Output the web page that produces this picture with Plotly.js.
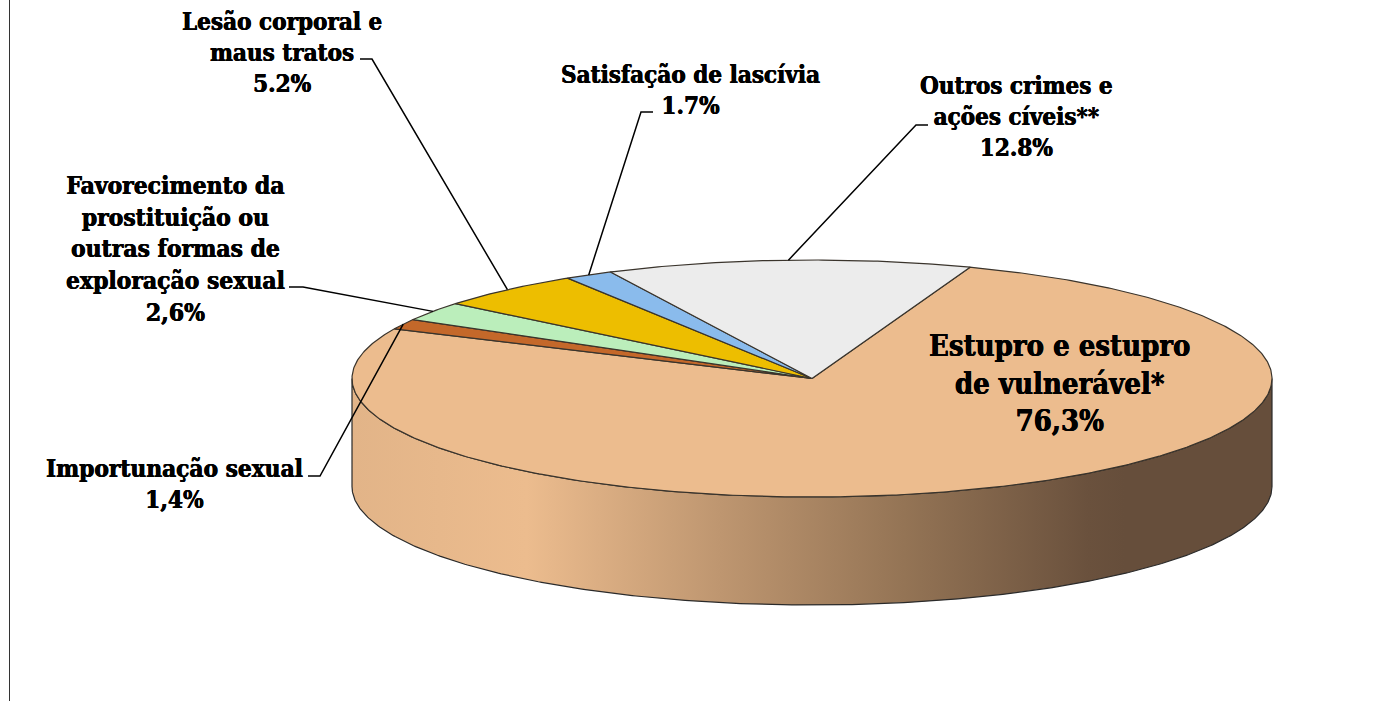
<!DOCTYPE html>
<html>
<head>
<meta charset="utf-8">
<script src="https://cdn.plot.ly/plotly-3.0.1.min.js"></script>
<style>html,body{margin:0;padding:0;background:#fff}#chart{width:1380px;height:701px}</style>
</head>
<body>
<div id="chart"></div>
<script>
// Data, in drawing order (clockwise from the boundary at the back right)
var categories = [
  ["Estupro e estupro", "de vulnerável*"],
  ["Importunação sexual"],
  ["Favorecimento da", "prostituição ou", "outras formas de", "exploração sexual"],
  ["Lesão corporal e", "maus tratos"],
  ["Satisfação de lascívia"],
  ["Outros crimes e", "ações cíveis**"]
];
var values = [76.3, 1.4, 2.6, 5.2, 1.7, 12.8];
var valueLabels = ["76,3%", "1,4%", "2,6%", "5.2%", "1.7%", "12.8%"];
var colors = ["#ECBC8E", "#C4682A", "#BBEEBB", "#EDBE00", "#8ABBEC", "#ECECEC"];

// Geometry of the tilted pie (axis units are pixels)
var cx = 812, cy = 378.5, rx = 460, ry = 118.5, depth = 108, startDeg = 69.9;
var labelX = [1059, 174, 175, 282, 690, 1016];
var labelY = [383, 484, 249, 52, 90, 116];
var labelSize = [29, 24.2, 24.4, 24, 24, 24];
var knees = [null, [[308, 476], [320, 476]], [[289, 287], [303, 287]], [[360, 59], [372, 59]],
             [[653, 112], [641, 112]], [[928, 125], [916, 125]]];

function rim(deg, dy) {
  var t = deg * Math.PI / 180;
  return [cx + rx * Math.cos(t), cy - ry * Math.sin(t) + (dy || 0)];
}
function arc(from, to, dy) {
  var pts = [], n = Math.max(2, Math.ceil(Math.abs(to - from) / 0.5));
  for (var i = 0; i <= n; i++) pts.push(rim(from + (to - from) * i / n, dy));
  return pts;
}
function xs(p) { return p.map(function (q) { return q[0]; }); }
function ys(p) { return p.map(function (q) { return q[1]; }); }

var total = values.reduce(function (a, b) { return a + b; }, 0);
var traces = [];

// Front wall of the pie
var wall = arc(180, 360, 0).concat(arc(360, 180, depth));
wall.push(wall[0]);
traces.push({
  type: "scatter", mode: "lines", x: xs(wall), y: ys(wall), fill: "toself",
  fillgradient: {
    type: "horizontal",
    colorscale: [[0, "#E2B488"], [0.19, "#ECBC8E"], [0.4, "#BE9670"], [0.6, "#947455"],
                 [0.8, "#6A513D"], [0.84, "#664E3B"], [1, "#664E3B"]]
  },
  line: { color: "#2a2a2a", width: 1.2 }, hoverinfo: "skip", showlegend: false
});

// Top face slices
var angle = startDeg, mids = [];
values.forEach(function (v, i) {
  var sweep = v / total * 360;
  var pts = [[cx, cy]].concat(arc(angle, angle - sweep, 0));
  pts.push([cx, cy]);
  mids.push(angle - sweep / 2);
  traces.push({
    type: "scatter", mode: "lines", x: xs(pts), y: ys(pts), fill: "toself",
    fillcolor: colors[i], line: { color: "#3a342c", width: 1.2 },
    name: categories[i].join(" "), hoverinfo: "name", showlegend: false
  });
  angle -= sweep;
});

// Leader lines
knees.forEach(function (k, i) {
  if (!k) return;
  var pts = k.concat([rim(mids[i], 0)]);
  traces.push({
    type: "scatter", mode: "lines", x: xs(pts), y: ys(pts),
    line: { color: "#000", width: 1.5 }, hoverinfo: "skip", showlegend: false
  });
});

var annotations = categories.map(function (lines, i) {
  return {
    x: labelX[i], y: labelY[i], xref: "x", yref: "y", xanchor: "center", yanchor: "middle",
    showarrow: false, align: "center",
    text: lines.concat([valueLabels[i]]).join("<br>"),
    font: { family: "'DejaVu Serif Condensed', 'DejaVu Serif', serif", size: labelSize[i], color: "#000", weight: "bold",
            shadow: "0.35px 0 0 #000, -0.35px 0 0 #000" }
  };
});

var layout = {
  width: 1380, height: 701, margin: { l: 0, r: 0, t: 0, b: 0 },
  paper_bgcolor: "#fff", plot_bgcolor: "#fff", showlegend: false,
  xaxis: { range: [0, 1380], visible: false, fixedrange: true },
  yaxis: { range: [701, 0], visible: false, fixedrange: true },
  annotations: annotations,
  shapes: [{ type: "line", xref: "x", yref: "paper", x0: 9.5, x1: 9.5, y0: 0, y1: 1,
             line: { color: "#333", width: 1 } }]
};
Plotly.newPlot("chart", traces, layout, { displayModeBar: false, staticPlot: true });
</script>
</body>
</html>
